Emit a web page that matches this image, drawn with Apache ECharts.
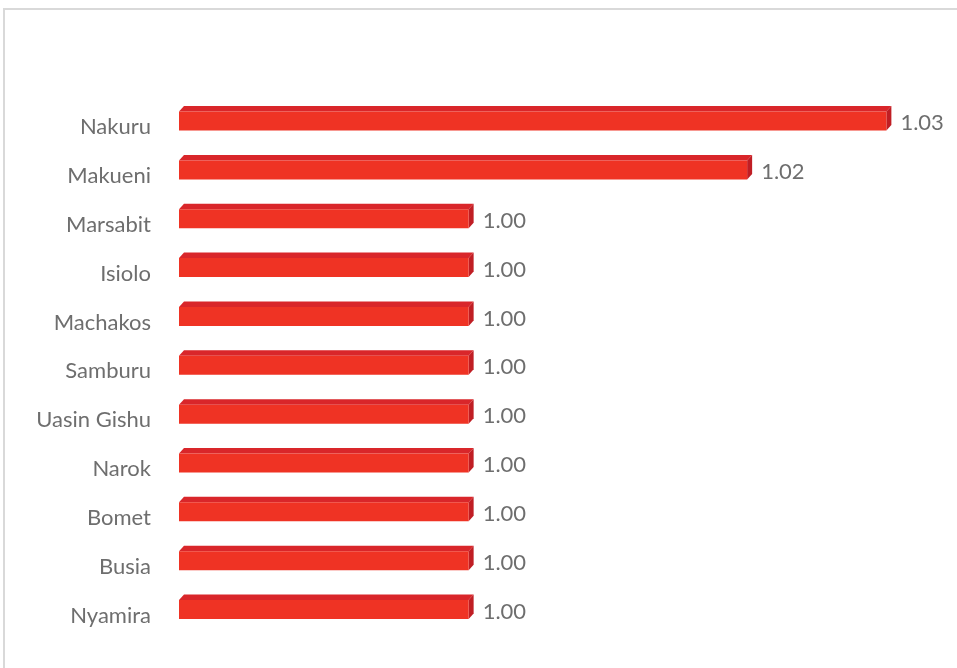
<!DOCTYPE html>
<html>
<head>
<meta charset="utf-8">
<script src="https://cdn.jsdelivr.net/npm/echarts@6/dist/echarts.min.js"></script>
<style>
  html, body { margin: 0; padding: 0; background: #ffffff; }
  #chart { width: 957px; height: 668px; }
</style>
</head>
<body>
<div id="chart"></div>
<script>
// Counties, listed top to bottom
const counties = ['Nakuru', 'Makueni', 'Marsabit', 'Isiolo', 'Machakos', 'Samburu',
  'Uasin Gishu', 'Narok', 'Bomet', 'Busia', 'Nyamira'];
// Index value per county
const values = [1.03, 1.02, 1.00, 1.00, 1.00, 1.00, 1.00, 1.00, 1.00, 1.00, 1.00];

const AXIS_MIN = 0.9792;
const FRONT = '#ef3324';
const TOP = '#d9262a';
const SIDE = '#c01e24';
const DEPTH_X = 5;
const DEPTH_Y = 5.5;
const TEXT_COLOR = '#6e6e6e';

const chart = echarts.init(document.getElementById('chart'));

// Draws a bar as a box: front face, top face and right side face
function renderBar(params, api) {
  const v = api.value(0);
  const idx = api.value(1);
  const start = api.coord([AXIS_MIN, idx]);
  const end = api.coord([v, idx]);
  const h = 19;
  const cy = end[1] - 6;
  const y0 = cy - h / 2;
  const y1 = cy + h / 2;
  const x0 = start[0];
  const x1 = end[0];
  return {
    type: 'group',
    children: [
      {
        type: 'polygon',
        shape: { points: [[x0, y0], [x0 + DEPTH_X, y0 - DEPTH_Y], [x1 + DEPTH_X, y0 - DEPTH_Y], [x1, y0]] },
        style: { fill: TOP }
      },
      {
        type: 'polygon',
        shape: { points: [[x1, y0], [x1 + DEPTH_X, y0 - DEPTH_Y], [x1 + DEPTH_X, y1 - DEPTH_Y], [x1, y1]] },
        style: { fill: SIDE }
      },
      {
        type: 'rect',
        shape: { x: x0, y: y0, width: x1 - x0, height: h },
        style: { fill: FRONT }
      },
      {
        type: 'text',
        x: x1 + 14,
        y: cy + 2,
        style: {
          text: v.toFixed(2),
          fill: TEXT_COLOR,
          font: '22px Lato',
          verticalAlign: 'middle',
          align: 'left'
        }
      }
    ]
  };
}

chart.setOption({
  animation: false,
  backgroundColor: '#ffffff',
  graphic: [{
    type: 'rect',
    shape: { x: 4, y: 9, width: 1000, height: 700 },
    style: { fill: 'none', stroke: '#d9d9d9', lineWidth: 2 },
    silent: true
  }],
  grid: { left: 179, top: 102.6, width: 777, height: 537.4, containLabel: false },
  xAxis: {
    type: 'value',
    min: AXIS_MIN,
    max: 1.035,
    show: false
  },
  yAxis: {
    type: 'category',
    data: counties,
    inverse: true,
    axisLine: { show: false },
    axisTick: { show: false },
    splitLine: { show: false },
    axisLabel: {
      color: TEXT_COLOR,
      fontFamily: 'Lato',
      fontSize: 22,
      margin: 28
    }
  },
  series: [{
    type: 'custom',
    renderItem: renderBar,
    encode: { x: 0, y: 1 },
    data: values.map((v, i) => [v, i])
  }]
});
</script>
</body>
</html>
